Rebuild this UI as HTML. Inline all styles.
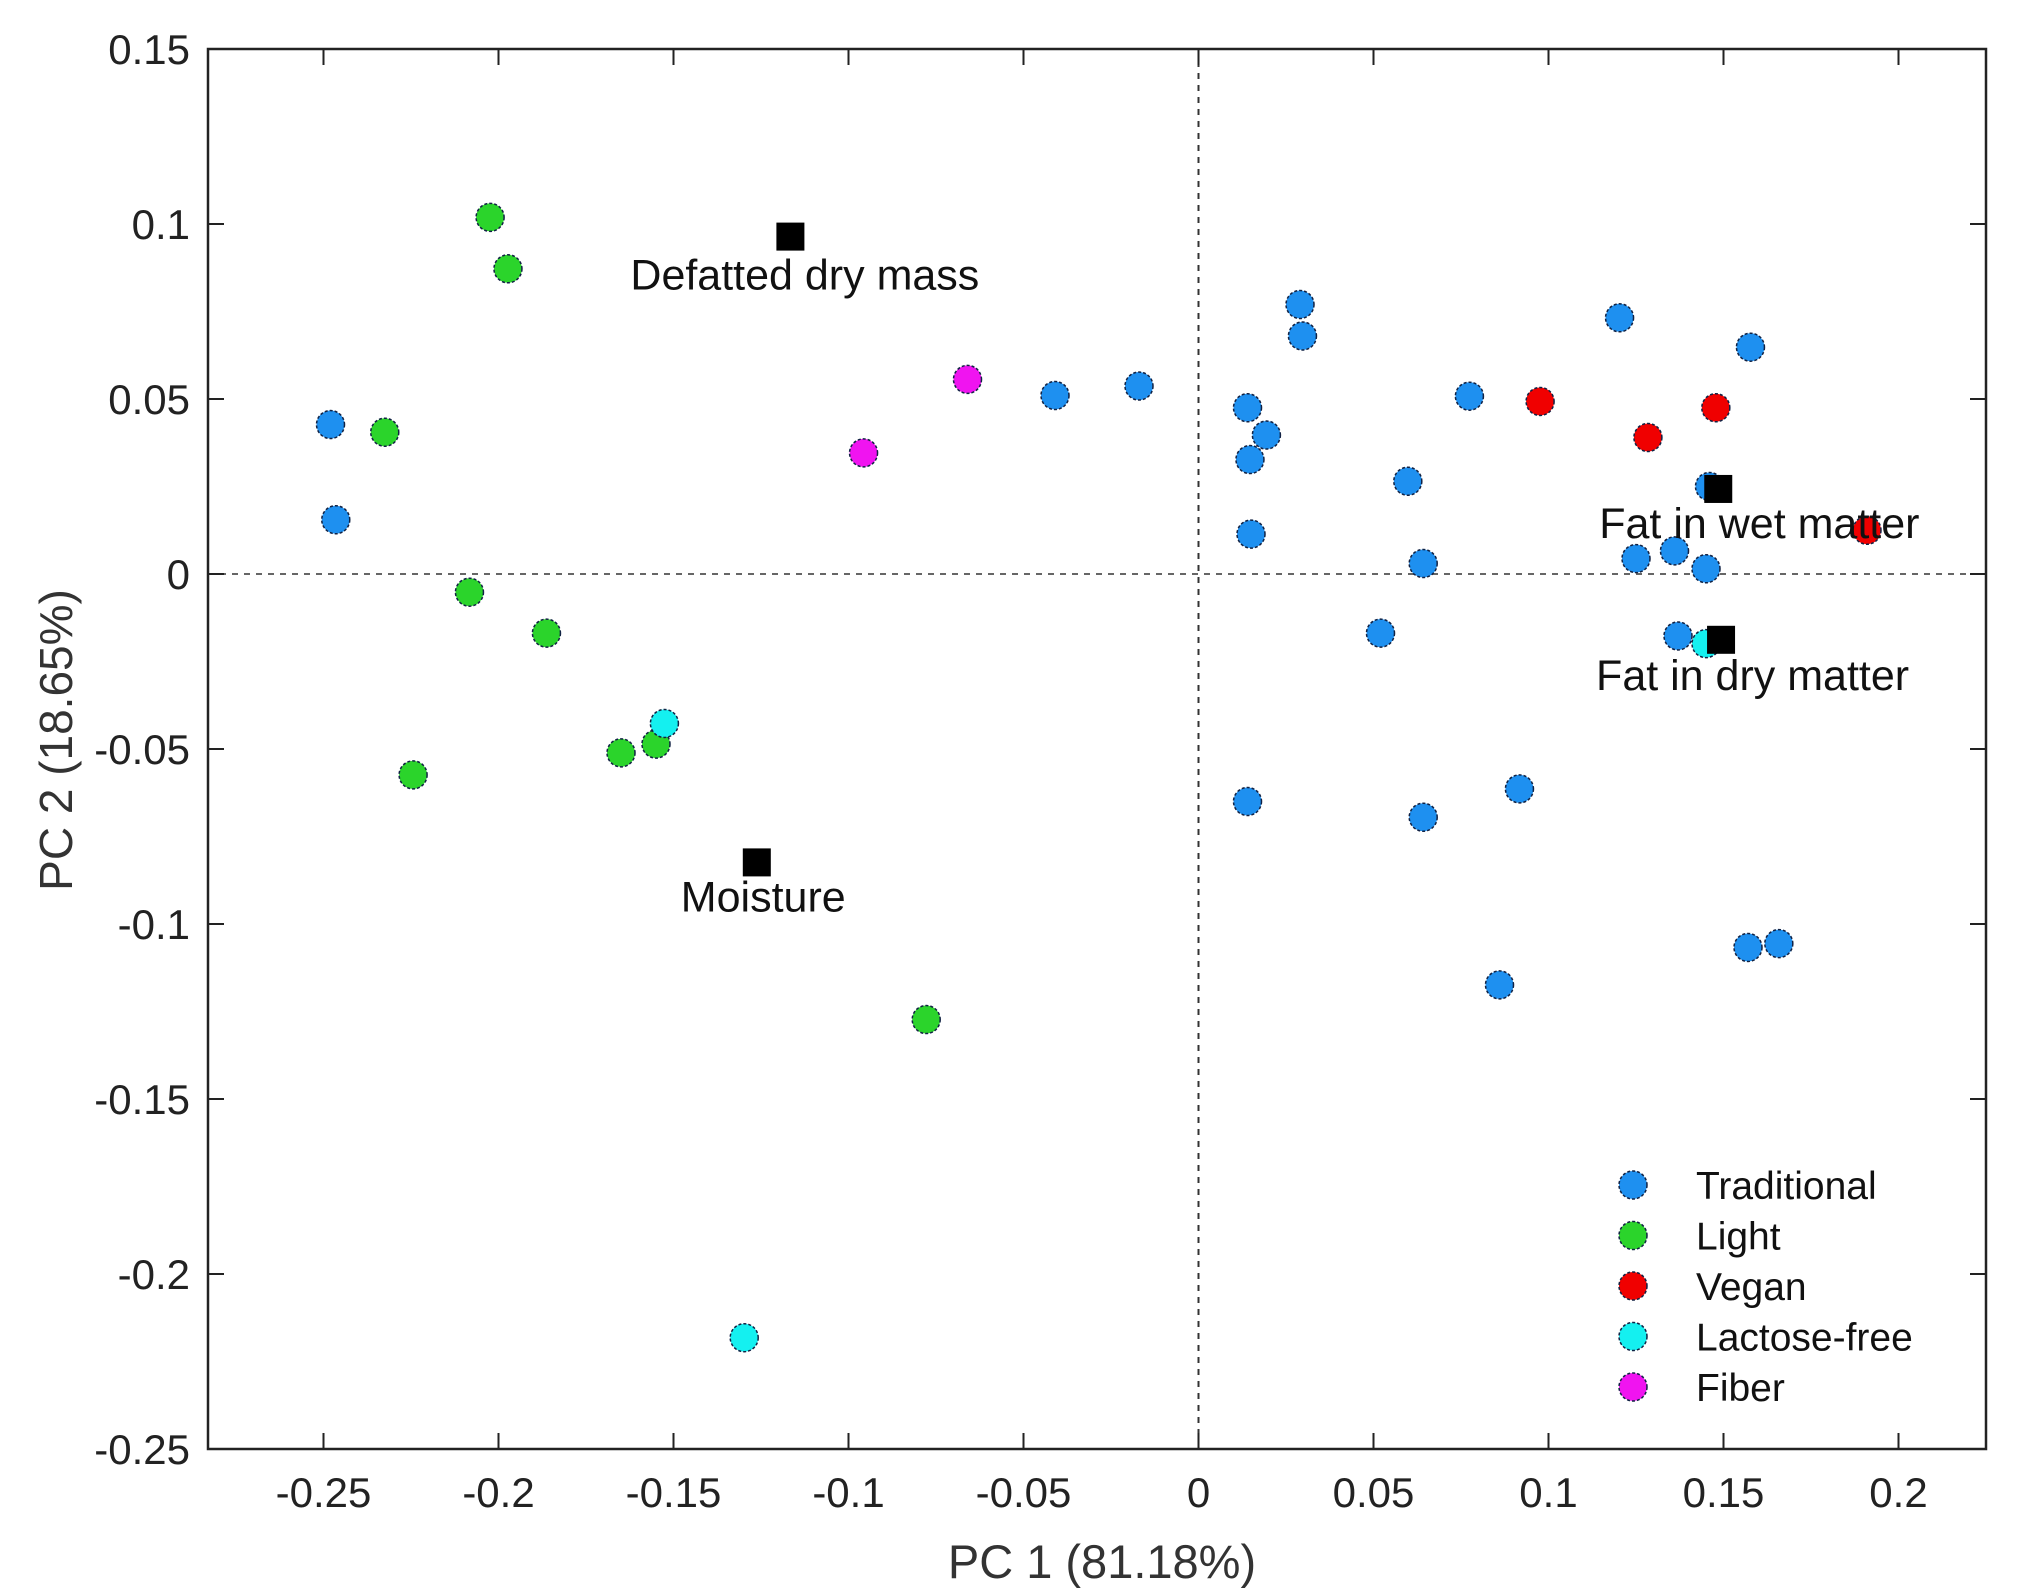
<!DOCTYPE html>
<html><head><meta charset="utf-8"><style>
html,body{margin:0;padding:0;background:#fff;}
svg{display:block;font-family:"Liberation Sans",Arial,sans-serif;}
</style></head><body>
<svg id="chart" width="2018" height="1590" viewBox="0 0 2018 1590">
<rect x="0" y="0" width="2018" height="1590" fill="#fff"/>
<g id="grid"></g>
<g id="pts"></g>
<g id="axes"></g>
</svg>
<script>
const xMin=-0.283, xMax=0.225, yMin=-0.25, yMax=0.15;
const xTicks=[-0.25,-0.2,-0.15,-0.1,-0.05,0,0.05,0.1,0.15,0.2];
const xTickLabels=["-0.25","-0.2","-0.15","-0.1","-0.05","0","0.05","0.1","0.15","0.2"];
const yTicks=[0.15,0.1,0.05,0,-0.05,-0.1,-0.15,-0.2,-0.25];
const yTickLabels=["0.15","0.1","0.05","0","-0.05","-0.1","-0.15","-0.2","-0.25"];
const groups=["Traditional","Light","Vegan","Lactose-free","Fiber"];
const groupColors=["#1e90f0","#2bd42b","#f00000","#14f0f0","#f014f0"];
const tradX=[-0.248,-0.2465,-0.041,-0.017,0.014,0.0147,0.0194,0.015,0.029,0.0297,0.0774,0.0598,0.0642,0.052,0.1203,0.1577,0.146,0.125,0.136,0.145,0.137,0.014,0.0642,0.0917,0.086,0.157,0.1658];
const tradY=[0.0427,0.0155,0.051,0.0537,0.0475,0.0327,0.0397,0.0114,0.077,0.068,0.0508,0.0265,0.003,-0.0169,0.0732,0.0648,0.025,0.0044,0.0066,0.0015,-0.0177,-0.065,-0.0695,-0.0614,-0.1174,-0.1067,-0.1056];
const lightX=[-0.2024,-0.1973,-0.2325,-0.2083,-0.1863,-0.2244,-0.165,-0.155,-0.0778];
const lightY=[0.1019,0.0872,0.0405,-0.0052,-0.0169,-0.0574,-0.0511,-0.0486,-0.1273];
const veganX=[0.0976,0.1284,0.1478,0.191];
const veganY=[0.0493,0.039,0.0475,0.0125];
const lactX=[-0.1526,0.145,-0.1298];
const lactY=[-0.0427,-0.0199,-0.2182];
const fiberX=[-0.0957,-0.066];
const fiberY=[0.0346,0.0556];
const loadNames=["Defatted dry mass","Moisture","Fat in wet matter","Fat in dry matter"];
const loadX=[-0.1166,-0.1262,0.1485,0.1493];
const loadY=[0.0964,-0.0824,0.0243,-0.0188];

const L=208,R=1986,T=49,B=1449;
const sx=v=>L+(v-xMin)/(xMax-xMin)*(R-L);
const sy=v=>B-(v-yMin)/(yMax-yMin)*(B-T);
const NS="http://www.w3.org/2000/svg";
function mk(tag,attrs,parent){const e=document.createElementNS(NS,tag);for(const k in attrs)e.setAttribute(k,attrs[k]);parent.appendChild(e);return e;}
const grid=document.getElementById('grid'),pts=document.getElementById('pts'),axes=document.getElementById('axes');

let zl=mk('line',{x1:sx(0),x2:sx(0),y1:T,y2:B,stroke:'#333','stroke-width':2,'stroke-dasharray':'6,6'},grid);


let zh=mk('line',{x1:L,x2:R,y1:sy(0),y2:sy(0),stroke:'#666','stroke-width':2,'stroke-dasharray':'6,6'},grid);



const series=[[tradX,tradY],[lightX,lightY],[veganX,veganY],[lactX,lactY],[fiberX,fiberY]];
series.forEach((s,gi)=>{
  s[0].forEach((x,i)=>{
    const c=mk('circle',{cx:sx(x),cy:sy(s[1][i]),r:14,fill:groupColors[gi],stroke:'#124',"stroke-width":1.5,'stroke-dasharray':'3,2'},pts);
    
    
  });
});
const labDx=[-160,-76,-119,-125];
const labDy=[53,49,49,50];
loadNames.forEach((n,i)=>{
  const cx=sx(loadX[i]),cy=sy(loadY[i]);
  const r=mk('rect',{x:cx-14,y:cy-14,width:28,height:28,fill:'#000'},pts);
  
  
  const t=mk('text',{x:cx+labDx[i],y:cy+labDy[i],'font-size':43,fill:'#111'},pts);
  t.textContent=n;
  
  
});

let fr=mk('rect',{x:L,y:T,width:R-L,height:B-T,fill:'none',stroke:'#222','stroke-width':2.5},axes);


xTicks.forEach((v,i)=>{
  const x=sx(v);
  mk('line',{x1:x,x2:x,y1:B,y2:B-16,stroke:'#222','stroke-width':2},axes);
  mk('line',{x1:x,x2:x,y1:T,y2:T+16,stroke:'#222','stroke-width':2},axes);
  const t=mk('text',{x:x,y:B+58,'font-size':42,'text-anchor':'middle',fill:'#222'},axes);
  t.textContent=xTickLabels[i];
  
  
});
yTicks.forEach((v,i)=>{
  const y=sy(v);
  mk('line',{x1:L,x2:L+16,y1:y,y2:y,stroke:'#222','stroke-width':2},axes);
  mk('line',{x1:R,x2:R-16,y1:y,y2:y,stroke:'#222','stroke-width':2},axes);
  const t=mk('text',{x:L-18,y:y+15,'font-size':42,'text-anchor':'end',fill:'#222'},axes);
  t.textContent=yTickLabels[i];
  
  
});
let xt=mk('text',{x:1102,y:1578,'font-size':47,'text-anchor':'middle',fill:'#333'},axes);
xt.textContent='PC 1 (81.18%)';


let yt=mk('text',{x:0,y:0,'font-size':46,'text-anchor':'middle',fill:'#333',transform:'translate(72,740) rotate(-90)'},axes);
yt.textContent='PC 2 (18.65%)';



groups.forEach((g,i)=>{
  const y=1185+i*50.5;
  const c=mk('circle',{cx:1633,cy:y,r:14,fill:groupColors[i],stroke:'#124','stroke-width':1.5,'stroke-dasharray':'3,2'},axes);
  
  
  const t=mk('text',{x:1696,y:y+14,'font-size':39,fill:'#111'},axes);
  t.textContent=g;
  
  
});
</script>
</body></html>
